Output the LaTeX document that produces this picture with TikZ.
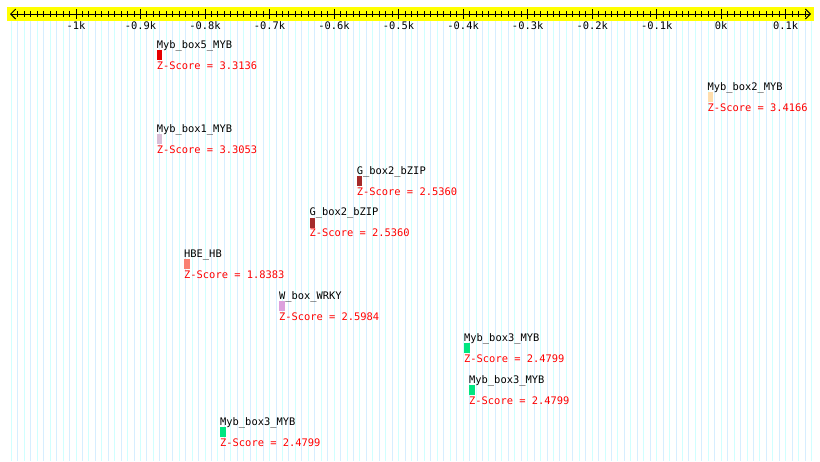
\documentclass[tikz,border=0pt]{standalone}
\usepackage{fontspec}
\setmonofont{DejaVu Sans Mono}
\usetikzlibrary{arrows.meta}
\definecolor{bgA}{RGB}{208,255,255}
\definecolor{bgB}{RGB}{214,238,255}
\definecolor{band}{RGB}{255,255,0}
\definecolor{zred}{RGB}{255,0,0}
\definecolor{cRed}{RGB}{230,0,0}
\definecolor{cPeach}{RGB}{255,222,173}
\definecolor{cThistle}{RGB}{216,191,216}
\definecolor{cBrown}{RGB}{165,42,42}
\definecolor{cSalmon}{RGB}{250,128,114}
\definecolor{cPlum}{RGB}{221,160,221}
\definecolor{cGreen}{RGB}{0,230,128}
\tikzset{
  txt/.style={font=\ttfamily\fontsize{10.4}{12}\selectfont, inner sep=0pt},
  lbl/.style={txt, anchor=base west, text=black},
  zs/.style={txt, anchor=base west, text=zred},
  mbox/.style={draw=none, inner sep=0pt, minimum width=5.5pt, minimum height=10pt, anchor=north west},
  axisline/.style={line width=1pt, black},
  barb/.tip={Straight Barb[length=5pt,width=10pt,line width=1pt]},
}
\newcommand\feature[6]{%
  % #1 name, #2 x, #3 box top y, #4 colour, #5 label, #6 zscore
  \node[lbl] (#1l) at (#2,#3-1.5) {#5};
  \node[mbox, fill=#4] (#1b) at (#2,#3) {};
  \node[zs] (#1z) at (#2,#3+19.5) {Z-Score = #6};
}
\begin{document}
\begin{tikzpicture}[x=1pt,y=-1pt]
\useasboundingbox (0,0) rectangle (820,461);
\fill[white] (0,0) rectangle (820,461);
% background grid lines
\foreach \k in {0,...,124}{
  \pgfmathsetmacro\gx{11.5+\k*6.452}
  \pgfmathtruncatemacro\parity{mod(\k,2)}
  \ifnum\parity=0
    \draw[bgA, line width=1pt] (\gx,21) -- (\gx,461);
  \else
    \draw[bgB, line width=1pt] (\gx,21) -- (\gx,461);
  \fi
}
% axis band
\fill[band] (7,7) rectangle (814,21);
\coordinate (axL) at (10,14);
\coordinate (axR) at (811,14);
\draw[axisline, barb-barb] (axL) -- (axR);
% minor ticks
\foreach \i in {-109,...,13}{
  \pgfmathsetmacro\tx{721.2+\i*6.452}
  \draw[line width=1pt] (\tx,11) -- (\tx,17);
}
% major ticks and labels
\foreach \v/\t [count=\n] in {-10/-1k,-9/-0.9k,-8/-0.8k,-7/-0.7k,-6/-0.6k,-5/-0.5k,-4/-0.4k,-3/-0.3k,-2/-0.2k,-1/-0.1k,0/0k,1/0.1k}{
  \pgfmathsetmacro\tx{721.2+\v*64.52}
  \draw[line width=1pt] (\tx,9) -- (\tx,19);
  \node[txt, anchor=base] (tick\n) at (\tx,29) {\t};
}
% features
\feature{fa}{156.7}{50}{cRed}{Myb\_box5\_MYB}{3.3136}
\feature{fb}{707.3}{91.5}{cPeach}{Myb\_box2\_MYB}{3.4166}
\feature{fc}{156.7}{133.5}{cThistle}{Myb\_box1\_MYB}{3.3053}
\feature{fd}{356.7}{175.5}{cBrown}{G\_box2\_bZIP}{2.5360}
\feature{fe}{309.3}{217.3}{cBrown}{G\_box2\_bZIP}{2.5360}
\feature{ff}{184}{259.2}{cSalmon}{HBE\_HB}{1.8383}
\feature{fg}{278.8}{301}{cPlum}{W\_box\_WRKY}{2.5984}
\feature{fh}{464}{342.8}{cGreen}{Myb\_box3\_MYB}{2.4799}
\feature{fi}{469}{385}{cGreen}{Myb\_box3\_MYB}{2.4799}
\feature{fj}{220}{426.5}{cGreen}{Myb\_box3\_MYB}{2.4799}
\end{tikzpicture}
\end{document}
